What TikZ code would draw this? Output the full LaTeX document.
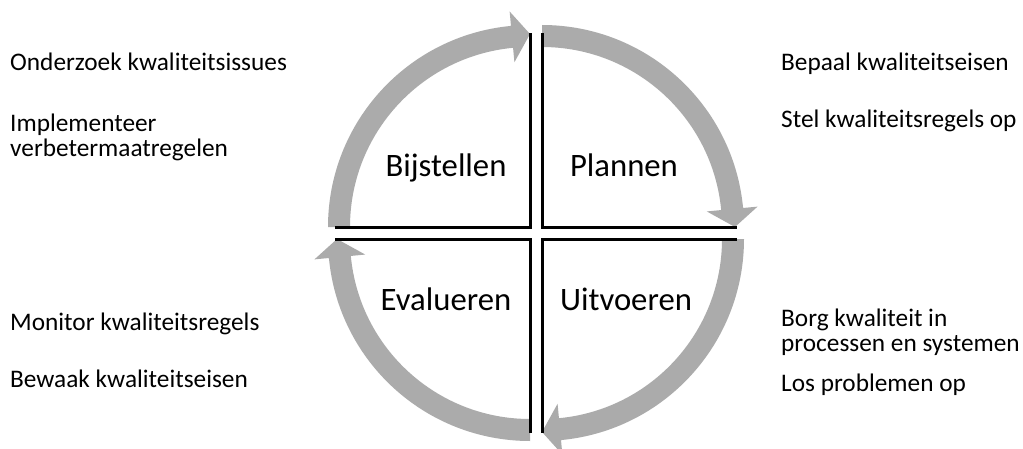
\documentclass[tikz,border=0pt]{standalone}
\usepackage{fontspec}
\setmainfont{Carlito}
\definecolor{bandgray}{RGB}{171,171,171}
\tikzset{
  band/.style={fill=bandgray},
  quadline/.style={draw=black,line width=3pt},
  sidetext/.style={anchor=base west,inner sep=0pt,font=\fontsize{25.3}{30}\selectfont},
  maintext/.style={anchor=base,inner sep=0pt,font=\fontsize{32.7}{38}\selectfont}
}
\begin{document}
\begin{tikzpicture}[x=1pt,y=1pt]
\clip (0,0) rectangle (1023,448);
\fill[white] (0,0) rectangle (1023,448);
% corners of the four quadrants
\coordinate (cUR) at (542,221);
\coordinate (cUL) at (530,221);
\coordinate (cLL) at (530,209);
\coordinate (cLR) at (542,209);
% Plannen (upper right): 90 -> 0
\begin{scope}[shift={(cUR)}]
  \fill[band] (90:202) arc[start angle=90,end angle=5.4,radius=202] -- (5.4:216.5) -- (0:193) -- (5.4:165.5) -- (5.4:180) arc[start angle=5.4,end angle=90,radius=180] -- cycle;
  \draw[quadline] (90:194) -- (0,0) -- (0:195);
\end{scope}
% Uitvoeren (lower right): 0 -> -90
\begin{scope}[shift={(cLR)}]
  \fill[band] (0:202) arc[start angle=0,end angle=-84.6,radius=202] -- (-84.6:216.5) -- (-90:193) -- (-84.6:165.5) -- (-84.6:180) arc[start angle=-84.6,end angle=0,radius=180] -- cycle;
  \draw[quadline] (0:195) -- (0,0) -- (-90:194);
\end{scope}
% Evalueren (lower left): 270 -> 180
\begin{scope}[shift={(cLL)}]
  \fill[band] (270:202) arc[start angle=270,end angle=185.4,radius=202] -- (185.4:216.5) -- (180:193) -- (185.4:165.5) -- (185.4:180) arc[start angle=185.4,end angle=270,radius=180] -- cycle;
  \draw[quadline] (270:194) -- (0,0) -- (180:195);
\end{scope}
% Bijstellen (upper left): 180 -> 90
\begin{scope}[shift={(cUL)}]
  \fill[band] (180:202) arc[start angle=180,end angle=95.4,radius=202] -- (95.4:216.5) -- (90:193) -- (95.4:165.5) -- (95.4:180) arc[start angle=95.4,end angle=180,radius=180] -- cycle;
  \draw[quadline] (180:195) -- (0,0) -- (90:194);
\end{scope}
% quadrant labels
\node[maintext] (bij) at (446,271) {Bijstellen};
\node[maintext] (pla) at (624,271) {Plannen};
\node[maintext] (eva) at (446,138) {Evalueren};
\node[maintext] (uit) at (626,138) {Uitvoeren};
% side texts
\node[sidetext] (t1) at (10,377) {Onderzoek kwaliteitsissues};
\node[sidetext] (t2) at (10,316) {Implementeer};
\node[sidetext] (t3) at (10,291) {verbetermaatregelen};
\node[sidetext] (t4) at (781,377) {Bepaal kwaliteitseisen};
\node[sidetext] (t5) at (781,320) {Stel kwaliteitsregels op};
\node[sidetext] (t6) at (10,118) {Monitor kwaliteitsregels};
\node[sidetext] (t7) at (10,61) {Bewaak kwaliteitseisen};
\node[sidetext] (t8) at (781,122) {Borg kwaliteit in};
\node[sidetext] (t9) at (781,97) {processen en systemen};
\node[sidetext] (t10) at (781,57) {Los problemen op};
\end{tikzpicture}
\end{document}
